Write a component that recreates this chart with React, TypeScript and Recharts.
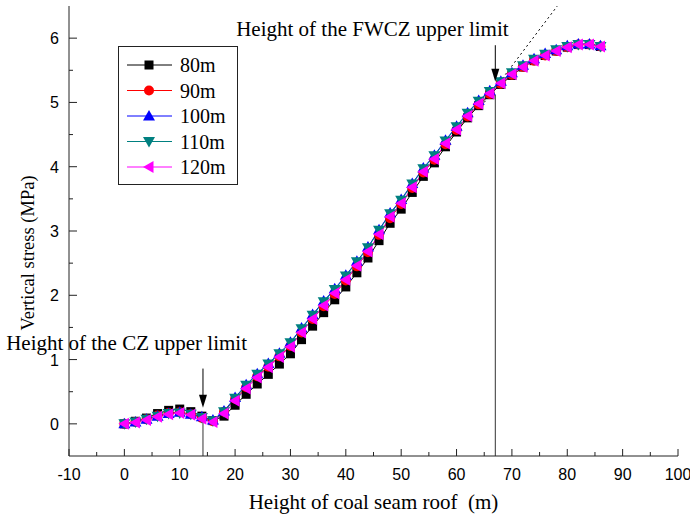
import { LineChart, Line, XAxis, YAxis, ReferenceLine, ReferenceDot } from 'recharts'

// height above the coal seam (m)
const heights = [
  0, 2, 4, 6, 8, 10, 12, 14, 16, 18, 20, 22, 24, 26, 28, 30, 32, 34, 36, 38, 40, 42,
  44, 46, 48, 50, 52, 54, 56, 58, 60, 62, 64, 66, 68, 70, 72, 74, 76, 78, 80, 82, 84, 86,
]

// vertical stress (MPa) for each mining width
const stress80m = [
  0.0, 0.04, 0.09, 0.16, 0.21, 0.23, 0.19, 0.12, 0.05, 0.12, 0.29, 0.46, 0.62, 0.77, 0.93,
  1.09, 1.31, 1.52, 1.73, 1.93, 2.13, 2.35, 2.58, 2.85, 3.12, 3.34, 3.6, 3.85, 4.06, 4.31,
  4.54, 4.76, 4.95, 5.12, 5.28, 5.42, 5.55, 5.65, 5.73, 5.8, 5.86, 5.9, 5.9, 5.87,
]
const stress90m = [
  0.0, 0.03, 0.07, 0.13, 0.17, 0.18, 0.15, 0.09, 0.04, 0.19, 0.39, 0.57, 0.74, 0.89, 1.05,
  1.21, 1.42, 1.63, 1.83, 2.02, 2.23, 2.45, 2.67, 2.94, 3.2, 3.42, 3.67, 3.91, 4.11, 4.35,
  4.57, 4.78, 4.97, 5.13, 5.29, 5.43, 5.55, 5.65, 5.73, 5.8, 5.86, 5.9, 5.9, 5.87,
]
const stress100m = [
  0.0, 0.03, 0.07, 0.12, 0.16, 0.18, 0.15, 0.11, 0.06, 0.2, 0.41, 0.61, 0.78, 0.94, 1.1,
  1.27, 1.49, 1.7, 1.91, 2.1, 2.31, 2.53, 2.75, 3.02, 3.28, 3.49, 3.74, 3.98, 4.18, 4.41,
  4.63, 4.84, 5.03, 5.18, 5.33, 5.46, 5.58, 5.68, 5.76, 5.82, 5.88, 5.91, 5.91, 5.88,
]
const stress110m = [
  0.0, 0.03, 0.07, 0.12, 0.16, 0.17, 0.15, 0.1, 0.05, 0.19, 0.4, 0.6, 0.77, 0.93, 1.09,
  1.26, 1.48, 1.69, 1.9, 2.09, 2.3, 2.52, 2.74, 3.01, 3.27, 3.48, 3.73, 3.97, 4.17, 4.4,
  4.62, 4.83, 5.02, 5.17, 5.32, 5.46, 5.57, 5.67, 5.75, 5.82, 5.87, 5.9, 5.9, 5.87,
]
const stress120m = [
  0.0, 0.02, 0.06, 0.11, 0.15, 0.17, 0.14, 0.08, 0.03, 0.16, 0.36, 0.55, 0.72, 0.88, 1.04,
  1.2, 1.42, 1.63, 1.84, 2.03, 2.24, 2.46, 2.68, 2.95, 3.22, 3.43, 3.68, 3.92, 4.12, 4.36,
  4.58, 4.79, 4.98, 5.14, 5.3, 5.44, 5.55, 5.65, 5.73, 5.8, 5.86, 5.9, 5.9, 5.87,
]

const xTicks = [-10, -5, 0, 5, 10, 15, 20, 25, 30, 35, 40, 45, 50, 55, 60, 65, 70, 75, 80, 85, 90, 95, 100]
const yTicks = [0, 0.5, 1, 1.5, 2, 2.5, 3, 3.5, 4, 4.5, 5, 5.5, 6]

// zone limits and the linear trend drawn past the FWCZ limit
const czLimit = 14.2
const fwczLimit = 67
const trendLine = [
  { x: 65, y: 5.0 },
  { x: 78.2, y: 6.5 },
]

const series = [
  { key: 's80', name: '80m', color: '#000000', shape: 'square', values: stress80m },
  { key: 's90', name: '90m', color: '#ff0000', shape: 'circle', values: stress90m },
  { key: 's100', name: '100m', color: '#0000ff', shape: 'up', values: stress100m },
  { key: 's110', name: '110m', color: '#008080', shape: 'down', values: stress110m },
  { key: 's120', name: '120m', color: '#ff00ff', shape: 'left', values: stress120m },
]

const data = heights.map((h, i) => {
  const row: Record<string, number> = { h }
  series.forEach(s => {
    row[s.key] = s.values[i]
  })
  return row
})

const serif = '"Liberation Serif", "Times New Roman", serif'
const sans = '"Liberation Sans", Arial, sans-serif'

function Marker({ cx, cy, shape, color }: { cx: number; cy: number; shape: string; color: string }) {
  if (cx == null || cy == null) return null
  switch (shape) {
    case 'square':
      return <rect x={cx - 4.5} y={cy - 4.5} width={9} height={9} fill={color} />
    case 'circle':
      return <circle cx={cx} cy={cy} r={5} fill={color} />
    case 'up':
      return <polygon points={`${cx},${cy - 6} ${cx - 6},${cy + 4.5} ${cx + 6},${cy + 4.5}`} fill={color} />
    case 'down':
      return <polygon points={`${cx},${cy + 6} ${cx - 6},${cy - 4.5} ${cx + 6},${cy - 4.5}`} fill={color} />
    default:
      return <polygon points={`${cx - 6},${cy} ${cx + 4.5},${cy - 6} ${cx + 4.5},${cy + 6}`} fill={color} />
  }
}

const XTick = ({ x, y, payload }: any) => {
  const major = payload.value % 10 === 0
  return (
    <g>
      <line x1={x} y1={y} x2={x} y2={y - (major ? 7 : 4)} stroke="#222" />
      {major && (
        <text x={x} y={y + 24} textAnchor="middle" fontSize={16} fontFamily={sans} fill="#000">
          {payload.value}
        </text>
      )}
    </g>
  )
}

const YTick = ({ x, y, payload }: any) => {
  const major = Number.isInteger(payload.value)
  return (
    <g>
      <line x1={x} y1={y} x2={x + (major ? 8 : 4)} y2={y} stroke="#222" />
      {major && (
        <text x={x - 10} y={y + 6} textAnchor="end" fontSize={16} fontFamily={sans} fill="#000">
          {payload.value}
        </text>
      )}
    </g>
  )
}

const arrowHead = (p: any) => (
  <path d={`M${p.cx},${p.cy} L${p.cx - 4},${p.cy - 13} L${p.cx + 4},${p.cy - 13} Z`} fill="#000" />
)

const note = (text: string) => (p: any) => (
  <text x={p.cx} y={p.cy} textAnchor="middle" fontSize={21} fontFamily={serif} fill="#000">
    {text}
  </text>
)

function LegendBox() {
  return (
    <svg width={120} height={139} style={{ position: 'absolute', left: 118, top: 46 }}>
      <rect x={0.5} y={0.5} width={119} height={138} fill="#fff" stroke="#222" />
      {series.map((s, i) => {
        const cy = 19 + i * 25.5
        return (
          <g key={s.key}>
            <line x1={9} y1={cy} x2={54} y2={cy} stroke={s.color} />
            <Marker cx={31} cy={cy} shape={s.shape} color={s.color} />
            <text x={62} y={cy + 7} fontSize={20} fontFamily={serif} fill="#000">
              {s.name}
            </text>
          </g>
        )
      })}
    </svg>
  )
}

export default function App() {
  return (
    <div style={{ position: 'absolute', left: 0, top: 0, width: 690, height: 519, background: '#fff' }}>
      <LineChart width={690} height={519} data={data} margin={{ top: 6, right: 12, left: 0, bottom: 0 }}>
        <XAxis
          dataKey="h"
          type="number"
          domain={[-10, 100]}
          ticks={xTicks}
          interval={0}
          tick={XTick}
          tickSize={0}
          tickMargin={0}
          tickLine={false}
          axisLine={{ stroke: '#222' }}
          height={63}
          label={{
            value: 'Height of coal seam roof\u00a0 (m)',
            position: 'insideBottom',
            offset: 10,
            fontSize: 21,
            fontFamily: serif,
            fill: '#000',
          }}
        />
        <XAxis
          xAxisId="top"
          orientation="top"
          type="number"
          domain={[-10, 100]}
          tick={false}
          tickLine={false}
          axisLine={{ stroke: '#222' }}
          height={0}
        />
        <YAxis
          type="number"
          domain={[-0.5, 6.5]}
          ticks={yTicks}
          interval={0}
          tick={YTick}
          tickSize={0}
          tickMargin={0}
          tickLine={false}
          axisLine={{ stroke: '#222' }}
          width={69}
          label={{
            value: 'Vertical stress (MPa)',
            angle: -90,
            position: 'center',
            dx: -7,
            dy: 22,
            fontSize: 18.5,
            fontFamily: serif,
            fill: '#000',
          }}
        />
        <YAxis
          yAxisId="right"
          orientation="right"
          type="number"
          domain={[-0.5, 6.5]}
          tick={false}
          tickLine={false}
          axisLine={{ stroke: '#222' }}
          width={0}
        />

        <ReferenceLine segment={trendLine} stroke="#000" strokeDasharray="2 3" />
        <ReferenceLine segment={[{ x: czLimit, y: -0.5 }, { x: czLimit, y: 0.03 }]} stroke="#333" />
        <ReferenceLine segment={[{ x: fwczLimit, y: -0.5 }, { x: fwczLimit, y: 5.12 }]} stroke="#333" />

        {series.map(s => (
          <Line
            key={s.key}
            dataKey={s.key}
            name={s.name}
            stroke={s.color}
            strokeWidth={1}
            isAnimationActive={false}
            activeDot={false}
            dot={(p: any) => (
              <Marker key={`${s.key}-${p.index}`} cx={p.cx} cy={p.cy} shape={s.shape} color={s.color} />
            )}
          />
        ))}

        <ReferenceLine segment={[{ x: czLimit, y: 0.86 }, { x: czLimit, y: 0.4 }]} stroke="#000" />
        <ReferenceDot x={czLimit} y={0.25} r={0} shape={arrowHead} />
        <ReferenceLine segment={[{ x: fwczLimit, y: 5.89 }, { x: fwczLimit, y: 5.45 }]} stroke="#000" />
        <ReferenceDot x={fwczLimit} y={5.32} r={0} shape={arrowHead} />

        <ReferenceDot x={0.4} y={1.15} r={0} shape={note('Height of the CZ upper limit')} />
        <ReferenceDot x={44.8} y={6.03} r={0} shape={note('Height of the FWCZ upper limit')} />
      </LineChart>
      <LegendBox />
    </div>
  )
}
